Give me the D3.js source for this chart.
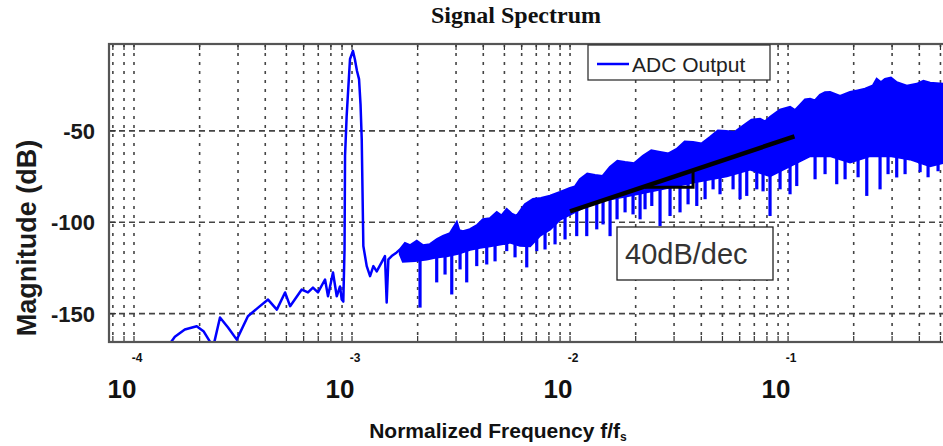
<!DOCTYPE html>
<html>
<head>
<meta charset="utf-8">
<script src="https://cdn.jsdelivr.net/npm/d3@7"></script>
<style>
    body { margin: 0; background: #fff; }
    svg { display: block; }
</style>
</head>
<body>
<div id="container"><svg></svg></div>
<script>
let width = 943, height = 446;
let lmargin = 109, rmargin = 950; // 右边框在画面外
let umargin = 44, dmargin = 342;

// 坐标轴
let x_domain = [7.68e-5, 0.553];
let y_domain = [-165.5, -2.5];
let x_decades = [-4, -3, -2, -1];
let y_ticks = [-50, -100, -150];

// 低频段的单线 (含 1e-3 处的信号峰)
let trace_freq = [1.39e-4, 1.54e-4, 1.71e-4, 1.94e-4, 2.09e-4, 2.23e-4, 2.30e-4, 2.35e-4, 2.48e-4, 2.70e-4,
    2.96e-4, 3.33e-4, 3.71e-4, 4.12e-4, 4.52e-4, 4.93e-4, 5.20e-4, 5.88e-4, 6.28e-4, 6.62e-4,
    6.98e-4, 7.52e-4, 7.76e-4, 8.18e-4, 8.51e-4, 8.81e-4, 8.97e-4, 9.12e-4, 9.24e-4, 9.29e-4,
    9.45e-4, 9.79e-4, 1.01e-3, 1.03e-3, 1.054e-3, 1.077e-3, 1.094e-3, 1.108e-3, 1.127e-3, 1.168e-3,
    1.21e-3, 1.253e-3, 1.298e-3, 1.367e-3, 1.416e-3, 1.442e-3, 1.468e-3, 1.52e-3, 1.603e-3, 1.661e-3];
let trace_db = [-170, -162.6, -158.7, -156.9, -159.8, -165.3, -168.6, -164.2, -152.1, -157.6,
    -164.2, -151.4, -146.7, -142.3, -147.8, -138.4, -145.9, -136.8, -138.4, -135.7,
    -138.4, -131.3, -140.5, -127.5, -140.5, -135.1, -142.3, -143.4, -114.9, -63.7,
    -41.8, -10.7, -6.3, -10.7, -17.3, -21.7, -35.4, -54.6, -113.0, -124.0,
    -129.5, -124.0, -126.9, -122.0, -118.5, -143.9, -120.3, -118.5, -116.5, -114.9];

// 高频段噪声带的上沿和下沿
let band_top_freq = [1.661e-3, 1.75e-3, 1.845e-3, 1.981e-3, 2.117e-3, 2.279e-3, 2.454e-3, 2.615e-3, 2.815e-3, 3.022e-3,
    3.1e-3, 3.230e-3, 3.478e-3, 3.744e-3, 3.990e-3, 4.296e-3, 4.611e-3, 4.85e-3, 5.124e-3, 5.4e-3,
    5.694e-3, 6.218e-3, 6.765e-3, 7.362e-3, 8.095e-3, 8.999e-3, 1.0e-2, 1.054e-2, 1.111e-2, 1.2e-2,
    1.302e-2, 1.41e-2, 1.526e-2, 1.65e-2, 1.788e-2, 1.97e-2, 2.162e-2, 2.36e-2, 2.587e-2, 2.83e-2,
    3.086e-2, 3.36e-2, 3.666e-2, 4.01e-2, 4.387e-2, 4.77e-2, 5.195e-2, 5.68e-2, 6.218e-2, 6.8e-2,
    7.438e-2, 7.84e-2, 8.266e-2, 9.19e-2, 0.1021, 0.1076, 0.1135, 0.1197, 0.1262, 0.133,
    0.1402, 0.1478, 0.1558, 0.1732, 0.1925, 0.2084, 0.2256, 0.2454, 0.2552, 0.2666,
    0.2786, 0.2962, 0.3150, 0.3502, 0.3894, 0.4177, 0.4481, 0.52];
let band_top_db = [-114.9, -111.5, -112.7, -110.3, -112.7, -112.1, -109.4, -107.6, -106.1, -100.1,
    -104.5, -105.0, -103.9, -101.7, -98.4, -97.9, -94.6, -96.5, -92.9, -95.5,
    -96.6, -90.2, -87.4, -86.9, -85.6, -83.6, -81.4, -80.5, -76.5, -73.5,
    -74.3, -74.8, -69.9, -66.5, -67.2, -67.8, -63.7, -60.8, -61.7, -62.5,
    -60.0, -56.0, -56.2, -57.0, -53.5, -50.0, -50.2, -50.8, -47.3, -44.0,
    -43.6, -45.0, -42.5, -38.5, -37.0, -38.8, -35.9, -33.0, -32.6, -33.5,
    -30.4, -29.0, -28.9, -31.0, -28.9, -28.0, -27.1, -25.3, -21.7, -23.5,
    -21.7, -21.0, -23.5, -25.5, -24.4, -22.8, -23.8, -24.4];
let band_bot_freq = [1.661e-3, 1.714e-3, 1.945e-3, 2.201e-3, 2.428e-3, 2.719e-3, 3.064e-3, 3.478e-3, 3.866e-3, 4.296e-3,
    4.775e-3, 5.306e-3, 5.897e-3, 6.553e-3, 7.284e-3, 8.095e-3, 8.999e-3, 1.0e-2, 1.275e-2, 1.820e-2,
    2.587e-2, 3.666e-2, 5.234e-2, 6.694e-2, 8.266e-2, 0.1021, 0.1262, 0.1558, 0.1925, 0.2377,
    0.2937, 0.3627, 0.4481, 0.52];
let band_bot_db = [-117.5, -121.5, -121.0, -120.3, -119.2, -118.5, -117.1, -114.9, -113.8, -113.0,
    -112.1, -111.0, -112.7, -113.0, -107.2, -103.9, -98.4, -95.7, -89.1, -85.6,
    -82.0, -78.1, -74.7, -71.0, -74.7, -69.2, -63.7, -63.7, -67.2, -63.7,
    -63.7, -65.5, -69.2, -67.2];

// 向下的尖刺
let spike_freq = [2.051e-3, 2.446e-3, 2.671e-3, 2.867e-3, 3.130e-3, 3.358e-3, 3.733e-3, 4.149e-3, 4.529e-3, 5.124e-3,
    5.594e-3, 6.330e-3, 7.035e-3, 7.679e-3, 8.535e-3, 9.486e-3, 1.073e-2, 1.193e-2, 1.326e-2, 1.417e-2,
    1.526e-2, 1.643e-2, 1.788e-2, 1.945e-2, 2.095e-2, 2.208e-2, 2.371e-2, 2.587e-2, 2.875e-2, 3.195e-2,
    3.478e-2, 3.813e-2, 4.163e-2, 4.529e-2, 4.875e-2, 5.594e-2, 6.023e-2, 6.464e-2, 7.185e-2, 7.679e-2,
    8.266e-2, 9.189e-2, 0.1021, 0.1096, 0.1330, 0.1478, 0.1672, 0.1826, 0.2095, 0.2296,
    0.2642, 0.2875, 0.3150, 0.3441, 0.4033, 0.4387, 0.4875];
let spike_db = [-146.7, -132.9, -128.6, -139.5, -125.8, -132.9, -124.0, -123.1, -121.4, -115.8,
    -119.2, -124.7, -115.8, -114.9, -112.1, -109.4, -107.6, -107.6, -103.9, -101.2,
    -107.6, -98.4, -94.6, -95.7, -98.4, -92.9, -91.1, -102.1, -96.6, -94.6,
    -90.2, -91.1, -87.4, -82.0, -84.7, -82.0, -87.4, -85.6, -82.0, -83.1,
    -96.6, -82.0, -84.7, -80.2, -76.5, -73.7, -79.2, -76.5, -75.4, -85.6,
    -82.0, -73.7, -75.5, -73.7, -72.6, -75.4, -72.1];

// 40dB/dec 斜线和小三角
let slope_freq = [0.01, 0.107];
let slope_db = [-94, -53];
let tri_freq = [0.02208, 0.03666, 0.03666];
let tri_db = [-80.9, -80.9, -72.0];

let font_sans = "'Liberation Sans', Arial, sans-serif";
let font_serif = "'Liberation Serif', 'Times New Roman', serif";

function draw_chart() {
    let svg = d3.select('#container').select('svg')
        .attr('width', width)
        .attr('height', height);

    let x = d3.scaleLog().domain(x_domain).range([lmargin, rmargin]);
    let y = d3.scaleLinear().domain(y_domain).range([dmargin, umargin]);

    svg.append("clipPath").attr("id", "plot_clip")
        .append("rect")
        .attr("x", lmargin).attr("y", umargin)
        .attr("width", rmargin - lmargin).attr("height", dmargin - umargin);

    // 网格: 竖线点线, 横线虚线
    let x_minor = x.ticks();
    let grid = svg.append("g");
    grid.selectAll("line.vg")
        .data(x_minor)
        .join("line")
        .attr("x1", d => x(d)).attr("x2", d => x(d))
        .attr("y1", umargin).attr("y2", dmargin)
        .attr("stroke", "#444")
        .attr("stroke-width", 1.6)
        .attr("stroke-dasharray", "3,6");
    grid.selectAll("line.hg")
        .data(y_ticks)
        .join("line")
        .attr("x1", lmargin).attr("x2", rmargin)
        .attr("y1", d => y(d)).attr("y2", d => y(d))
        .attr("stroke", "#444")
        .attr("stroke-width", 1.6)
        .attr("stroke-dasharray", "6,4");

    // 刻度线
    let ticks = svg.append("g").attr("stroke", "#333").attr("stroke-width", 1.2);
    ticks.selectAll("line.bt")
        .data(x_minor)
        .join("line")
        .attr("x1", d => x(d)).attr("x2", d => x(d))
        .attr("y1", dmargin).attr("y2", dmargin - 6);
    ticks.selectAll("line.tt")
        .data(x_minor)
        .join("line")
        .attr("x1", d => x(d)).attr("x2", d => x(d))
        .attr("y1", umargin).attr("y2", umargin + 6);
    ticks.selectAll("line.lt")
        .data(y_ticks)
        .join("line")
        .attr("x1", lmargin).attr("x2", lmargin + 7)
        .attr("y1", d => y(d)).attr("y2", d => y(d));

    let plot = svg.append("g").attr("clip-path", "url(#plot_clip)");

    // 频谱
    let line = d3.line().x(d => x(d[0])).y(d => y(d[1]));
    let trace = trace_freq.map((f, i) => [f, trace_db[i]]);
    plot.append("path")
        .attr("d", line(trace))
        .attr("fill", "none")
        .attr("stroke", "#0000ff")
        .attr("stroke-width", 2.5)
        .attr("stroke-linejoin", "round");

    let band = band_top_freq.map((f, i) => [f, band_top_db[i]])
        .concat(band_bot_freq.map((f, i) => [f, band_bot_db[i]]).reverse());
    plot.append("path")
        .attr("d", line(band) + "Z")
        .attr("fill", "#0000ff")
        .attr("stroke", "#0000ff")
        .attr("stroke-width", 2.5)
        .attr("stroke-linejoin", "miter");

    // 尖刺从噪声带下沿往下画
    let bot_px = band_bot_freq.map((f, i) => [x(f), y(band_bot_db[i])]);
    function base_y(px) {
        let k = d3.bisector(d => d[0]).left(bot_px, px);
        if (k <= 0) return bot_px[0][1];
        if (k >= bot_px.length) return bot_px[bot_px.length - 1][1];
        let a = bot_px[k - 1], b = bot_px[k];
        return a[1] + (b[1] - a[1]) * (px - a[0]) / (b[0] - a[0]);
    }
    plot.append("g")
        .selectAll("line")
        .data(spike_freq)
        .join("line")
        .attr("x1", d => x(d)).attr("x2", d => x(d))
        .attr("y1", d => base_y(x(d)) - 4)
        .attr("y2", (d, i) => y(spike_db[i]))
        .attr("stroke", "#0000ff")
        .attr("stroke-width", 3.2);

    // 斜率标注
    plot.append("path")
        .attr("d", line(slope_freq.map((f, i) => [f, slope_db[i]])))
        .attr("stroke", "#000")
        .attr("stroke-width", 4.5);
    plot.append("path")
        .attr("d", line(tri_freq.map((f, i) => [f, tri_db[i]])))
        .attr("fill", "none")
        .attr("stroke", "#000")
        .attr("stroke-width", 3);

    // 边框
    svg.append("rect")
        .attr("x", lmargin).attr("y", umargin)
        .attr("width", rmargin - lmargin).attr("height", dmargin - umargin)
        .attr("fill", "none")
        .attr("stroke", "#555")
        .attr("stroke-width", 2.2);

    // 图例
    let legend = svg.append("g");
    legend.append("rect")
        .attr("x", 588).attr("y", 45).attr("width", 182).attr("height", 35)
        .attr("fill", "#fff").attr("stroke", "#333").attr("stroke-width", 1.3);
    legend.append("line")
        .attr("x1", 597).attr("x2", 629).attr("y1", 64).attr("y2", 64)
        .attr("stroke", "#0000ff").attr("stroke-width", 2.5);
    legend.append("text")
        .attr("x", 632).attr("y", 72)
        .style("font-family", font_sans).style("font-size", "21px")
        .attr("fill", "#222")
        .text("ADC Output");

    // 40dB/dec 文本框
    let note = svg.append("g");
    note.append("rect")
        .attr("x", 617).attr("y", 227).attr("width", 156).attr("height", 53)
        .attr("fill", "#fff").attr("stroke", "#222").attr("stroke-width", 1.3);
    note.append("text")
        .attr("x", 625).attr("y", 264)
        .style("font-family", font_sans).style("font-size", "29px")
        .attr("fill", "#333")
        .text("40dB/dec");

    // y 轴刻度文字
    svg.append("g")
        .selectAll("text")
        .data(y_ticks)
        .join("text")
        .attr("x", 95).attr("y", d => y(d) + 8)
        .attr("text-anchor", "end")
        .style("font-family", font_sans).style("font-size", "22px").style("font-weight", "bold")
        .attr("fill", "#1a1a1a")
        .text(d => d);

    // x 轴刻度文字: 10 加上标
    let xl = svg.append("g")
        .style("font-family", font_sans).style("font-weight", "bold")
        .attr("fill", "#111");
    xl.selectAll("text.base")
        .data(x_decades)
        .join("text")
        .attr("x", d => x(Math.pow(10, d)) - 12)
        .attr("y", 398)
        .attr("text-anchor", "middle")
        .style("font-size", "26px")
        .text("10");
    xl.selectAll("text.exp")
        .data(x_decades)
        .join("text")
        .attr("x", d => x(Math.pow(10, d)) + 3)
        .attr("y", 362)
        .attr("text-anchor", "middle")
        .style("font-size", "12px")
        .text(d => d);

    // 标题和轴标题
    svg.append("text")
        .attr("x", 516).attr("y", 23)
        .attr("text-anchor", "middle")
        .style("font-family", font_serif).style("font-size", "24px").style("font-weight", "bold")
        .attr("fill", "#111")
        .text("Signal Spectrum");

    let xt = svg.append("text")
        .attr("x", 498).attr("y", 438)
        .attr("text-anchor", "middle")
        .style("font-family", font_sans).style("font-size", "21px").style("font-weight", "bold")
        .attr("fill", "#111");
    xt.append("tspan").text("Normalized Frequency f/f");
    xt.append("tspan").attr("dy", 3).style("font-size", "12px").text("s");

    svg.append("text")
        .attr("transform", "translate(36,238) rotate(-90)")
        .attr("text-anchor", "middle")
        .style("font-family", font_sans).style("font-size", "27px").style("font-weight", "bold")
        .attr("fill", "#1a1a1a")
        .text("Magnitude (dB)");
}

draw_chart();
</script>
</body>
</html>
